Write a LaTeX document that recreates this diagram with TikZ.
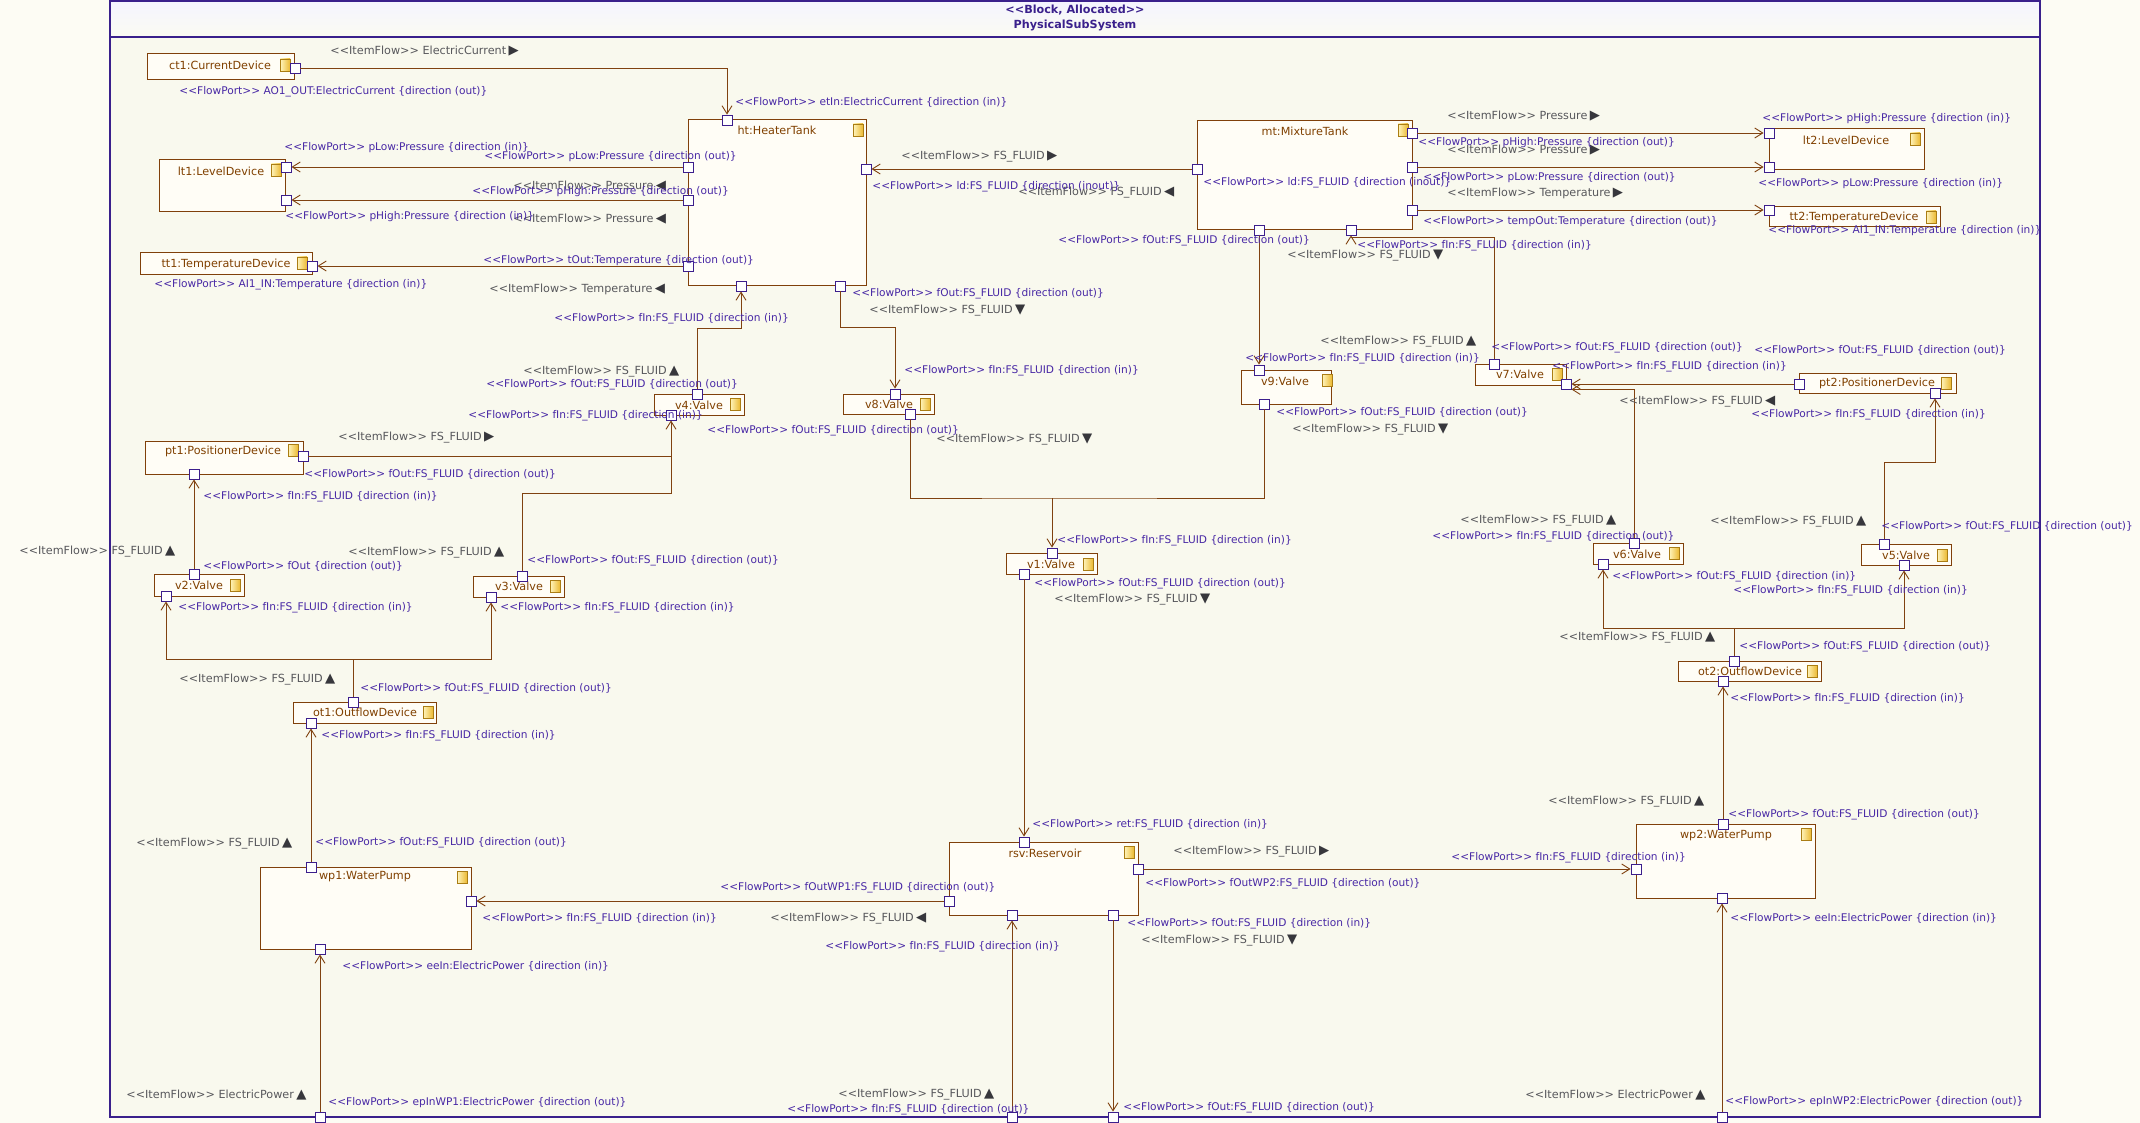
\documentclass[tikz,border=0pt]{standalone}
\usepackage{fontspec}
\setmainfont{DejaVu Sans}
\usepackage{xcolor}
\usetikzlibrary{arrows.meta}

\definecolor{outbg}{RGB}{253,252,244}
\definecolor{inbg}{RGB}{249,249,238}
\definecolor{titletop}{RGB}{244,244,255}
\definecolor{titlebot}{RGB}{251,251,242}
\definecolor{framec}{RGB}{58,32,140}
\definecolor{blockc}{RGB}{128,64,10}
\definecolor{blockf}{RGB}{255,253,246}
\definecolor{connc}{RGB}{128,66,16}
\definecolor{portc}{RGB}{60,30,140}
\definecolor{namec}{RGB}{128,64,0}
\definecolor{fportc}{RGB}{72,40,165}
\definecolor{iflowc}{RGB}{88,88,92}
\definecolor{tric}{RGB}{55,55,60}
\definecolor{iconc}{RGB}{170,125,20}
\definecolor{iconl}{RGB}{255,245,190}
\definecolor{iconr}{RGB}{235,185,50}

\newcommand{\portst}{<\kern0pt<FlowPort>\kern0pt>\ }
\newcommand{\itemst}{<\kern0pt<ItemFlow>\kern0pt>\ }
\newcommand{\trup}{\kern1.2pt{\color{tric}\fontsize{6.6}{6}\selectfont ▲}}
\newcommand{\trdn}{\kern1.2pt{\color{tric}\fontsize{6.6}{6}\selectfont ▼}}
\newcommand{\trlt}{\kern1.2pt{\color{tric}\fontsize{6.6}{6}\selectfont ◀}}
\newcommand{\trrt}{\kern1.2pt{\color{tric}\fontsize{6.6}{6}\selectfont ▶}}

\tikzset{
  block/.style={draw=blockc, fill=blockf, line width=0.5pt, inner sep=0pt},
  port/.style={draw=portc, fill=white, line width=0.45pt, minimum size=5pt, inner sep=0pt},
  icon/.style={draw=iconc, line width=0.3pt, left color=iconl, right color=iconr,
    minimum width=5pt, minimum height=6pt, inner sep=0pt},
  bname/.style={text=namec, font=\fontsize{5.6}{6}\selectfont, inner sep=0pt},
  fport/.style={text=fportc, font=\fontsize{5.3}{6}\selectfont, anchor=west, inner sep=0pt},
  iflow/.style={text=iflowc, font=\fontsize{5.6}{6}\selectfont, anchor=west, inner sep=0pt},
  conn/.style={draw=connc, line width=0.45pt},
}

\begin{document}
\begin{tikzpicture}[x=0.5pt, y=-0.5pt, >={Straight Barb[length=4pt,width=5pt]}]
  % Fond et cadre
  \useasboundingbox (0,0) rectangle (2140,1123);
  \fill[outbg] (0,0) rectangle (2140,1123);
  \fill[inbg] (110,1) rectangle (2040,1117);
  \shade[top color=titletop, bottom color=titlebot] (110,1) rectangle (2040,37);
  \draw[framec, line width=0.6pt] (110,1) rectangle (2040,1117);
  \draw[framec, line width=0.6pt] (110,37) -- (2040,37);
  \node[text=framec, font=\fontsize{5.6}{6}\selectfont\bfseries, inner sep=0pt] (title1) at (1075,10) {<\kern0pt<Block, Allocated>\kern0pt>};
  \node[text=framec, font=\fontsize{5.6}{6}\selectfont\bfseries, inner sep=0pt] (title2) at (1075,25) {PhysicalSubSystem};

  % Blocs
  \node[block, minimum width=73.5pt, minimum height=13pt] (ct1) at (220.5,67) {};
  \node[block, minimum width=89pt, minimum height=82.5pt] (ht) at (777,202.5) {};
  \node[block, minimum width=63pt, minimum height=26pt] (lt1) at (222,186) {};
  \node[block, minimum width=86pt, minimum height=10.5pt] (tt1) at (226,263.5) {};
  \node[block, minimum width=107.5pt, minimum height=54.5pt] (mt) at (1304.5,175.5) {};
  \node[block, minimum width=77.5pt, minimum height=20.5pt] (lt2) at (1846.5,149.5) {};
  \node[block, minimum width=85.5pt, minimum height=10pt] (tt2) at (1854.5,217) {};
  \node[block, minimum width=45pt, minimum height=10.5pt] (v4) at (699,404.5) {};
  \node[block, minimum width=45.5pt, minimum height=10pt] (v8) at (888.5,404) {};
  \node[block, minimum width=45pt, minimum height=17pt] (v9) at (1286,387) {};
  \node[block, minimum width=45.5pt, minimum height=10.5pt] (v7) at (1520.5,374.5) {};
  \node[block, minimum width=78.5pt, minimum height=10pt] (pt2) at (1877.5,383) {};
  \node[block, minimum width=45pt, minimum height=10.5pt] (v6) at (1638,553.5) {};
  \node[block, minimum width=45pt, minimum height=10.5pt] (v5) at (1906,554.5) {};
  \node[block, minimum width=71.5pt, minimum height=10pt] (ot2) at (1749.5,671) {};
  \node[block, minimum width=89.5pt, minimum height=37pt] (wp2) at (1725.5,861) {};
  \node[block, minimum width=94.5pt, minimum height=36.5pt] (rsv) at (1043.5,878.5) {};
  \node[block, minimum width=105.5pt, minimum height=41pt] (wp1) at (365.5,908) {};
  \node[block, minimum width=45.5pt, minimum height=10.5pt] (v1) at (1051.5,563.5) {};
  \node[block, minimum width=79pt, minimum height=16.5pt] (pt1) at (224,457.5) {};
  \node[block, minimum width=45pt, minimum height=11pt] (v2) at (199,585) {};
  \node[block, minimum width=45.5pt, minimum height=10.5pt] (v3) at (518.5,586.5) {};
  \node[block, minimum width=71.5pt, minimum height=10.5pt] (ot1) at (364.5,712.5) {};

  % Noms des blocs
  \node[bname] (ct1-n) at (220,65) {ct1:CurrentDevice};
  \node[bname] (ht-n) at (777,130) {ht:HeaterTank};
  \node[bname] (lt1-n) at (221,171) {lt1:LevelDevice};
  \node[bname] (tt1-n) at (226,264) {tt1:TemperatureDevice};
  \node[bname] (mt-n) at (1305,131) {mt:MixtureTank};
  \node[bname] (lt2-n) at (1846,140) {lt2:LevelDevice};
  \node[bname] (tt2-n) at (1854,217) {tt2:TemperatureDevice};
  \node[bname] (v4-n) at (699,405) {v4:Valve};
  \node[bname] (v8-n) at (889,404) {v8:Valve};
  \node[bname] (v9-n) at (1285,381) {v9:Valve};
  \node[bname] (v7-n) at (1520,374) {v7:Valve};
  \node[bname] (pt2-n) at (1877,383) {pt2:PositionerDevice};
  \node[bname] (v6-n) at (1637,554) {v6:Valve};
  \node[bname] (v5-n) at (1906,555) {v5:Valve};
  \node[bname] (ot2-n) at (1750,671) {ot2:OutflowDevice};
  \node[bname] (wp2-n) at (1726,835) {wp2:WaterPump};
  \node[bname] (rsv-n) at (1045,853) {rsv:Reservoir};
  \node[bname] (wp1-n) at (365,877) {wp1:WaterPump};
  \node[bname] (v1-n) at (1051,564) {v1:Valve};
  \node[bname] (pt1-n) at (223,451) {pt1:PositionerDevice};
  \node[bname] (v2-n) at (199,585) {v2:Valve};
  \node[bname] (v3-n) at (519,586) {v3:Valve};
  \node[bname] (ot1-n) at (365,712) {ot1:OutflowDevice};

  % Icones
  \node[icon] (ct1-i) at (285,65) {};
  \node[icon] (ht-i) at (858,130) {};
  \node[icon] (lt1-i) at (276,170) {};
  \node[icon] (tt1-i) at (302,263) {};
  \node[icon] (mt-i) at (1403,130) {};
  \node[icon] (lt2-i) at (1915,139) {};
  \node[icon] (tt2-i) at (1931,217) {};
  \node[icon] (v4-i) at (735,404) {};
  \node[icon] (v8-i) at (925,404) {};
  \node[icon] (v9-i) at (1327,380) {};
  \node[icon] (v7-i) at (1557,374) {};
  \node[icon] (pt2-i) at (1946,383) {};
  \node[icon] (v6-i) at (1674,553) {};
  \node[icon] (v5-i) at (1942,555) {};
  \node[icon] (ot2-i) at (1812,671) {};
  \node[icon] (wp2-i) at (1806,834) {};
  \node[icon] (rsv-i) at (1129,852) {};
  \node[icon] (wp1-i) at (462,877) {};
  \node[icon] (v1-i) at (1088,564) {};
  \node[icon] (pt1-i) at (293,450) {};
  \node[icon] (v2-i) at (235,585) {};
  \node[icon] (v3-i) at (555,586) {};
  \node[icon] (ot1-i) at (428,712) {};

  % Ports
  \node[port] (ct1out) at (295,68) {};
  \node[port] (htet) at (727,120) {};
  \node[port] (htplo) at (688,167) {};
  \node[port] (htphi) at (688,200) {};
  \node[port] (httout) at (688,266) {};
  \node[port] (htld) at (866,169) {};
  \node[port] (htfin) at (741,286) {};
  \node[port] (htfout) at (840,286) {};
  \node[port] (lt1plo) at (286,167) {};
  \node[port] (lt1phi) at (286,200) {};
  \node[port] (tt1in) at (312,266) {};
  \node[port] (mtld) at (1197,169) {};
  \node[port] (mtphi) at (1412,133) {};
  \node[port] (mtplo) at (1412,167) {};
  \node[port] (mttemp) at (1412,210) {};
  \node[port] (mtfout) at (1259,230) {};
  \node[port] (mtfin) at (1351,230) {};
  \node[port] (lt2phi) at (1769,133) {};
  \node[port] (lt2plo) at (1769,167) {};
  \node[port] (tt2in) at (1769,210) {};
  \node[port] (v4fout) at (697,394) {};
  \node[port] (v4fin) at (671,415) {};
  \node[port] (v8fin) at (895,394) {};
  \node[port] (v8fout) at (910,414) {};
  \node[port] (v9fin) at (1259,370) {};
  \node[port] (v9fout) at (1264,404) {};
  \node[port] (v7fout) at (1494,364) {};
  \node[port] (v7fin) at (1566,384) {};
  \node[port] (pt2fout) at (1799,384) {};
  \node[port] (pt2fin) at (1935,393) {};
  \node[port] (v6fout) at (1634,543) {};
  \node[port] (v6fin) at (1603,564) {};
  \node[port] (v5fout) at (1884,544) {};
  \node[port] (v5fin) at (1904,565) {};
  \node[port] (ot2fout) at (1734,661) {};
  \node[port] (ot2fin) at (1723,681) {};
  \node[port] (wp2fout) at (1723,824) {};
  \node[port] (wp2fin) at (1636,869) {};
  \node[port] (wp2ee) at (1722,898) {};
  \node[port] (rsvret) at (1024,842) {};
  \node[port] (rsvwp2) at (1138,869) {};
  \node[port] (rsvwp1) at (949,901) {};
  \node[port] (rsvfin) at (1012,915) {};
  \node[port] (rsvfout) at (1113,915) {};
  \node[port] (wp1fout) at (311,867) {};
  \node[port] (wp1fin) at (471,901) {};
  \node[port] (wp1ee) at (320,949) {};
  \node[port] (v1fin) at (1052,553) {};
  \node[port] (v1fout) at (1024,574) {};
  \node[port] (pt1fout) at (303,456) {};
  \node[port] (pt1fin) at (194,474) {};
  \node[port] (v2fout) at (194,574) {};
  \node[port] (v2fin) at (166,596) {};
  \node[port] (v3fout) at (522,576) {};
  \node[port] (v3fin) at (491,597) {};
  \node[port] (ot1fout) at (353,702) {};
  \node[port] (ot1fin) at (311,723) {};
  \node[port] (epwp1) at (320,1117) {};
  \node[port] (sysfin) at (1012,1117) {};
  \node[port] (sysfout) at (1113,1117) {};
  \node[port] (epwp2) at (1722,1117) {};

  % Coudes
  \coordinate (jA) at (840,327);
  \coordinate (jB) at (741,328);
  \coordinate (jC) at (671,493);
  \coordinate (jD) at (1351,237);
  \coordinate (jE) at (1052,498);
  \coordinate (jF) at (353,659);
  \coordinate (jG) at (1935,462);
  \coordinate (jH) at (1734,628);

  % Connecteurs
  \draw[conn, ->] (ct1out) -| (htet);
  \draw[conn, ->] (htplo) -- (lt1plo);
  \draw[conn, ->] (htphi) -- (lt1phi);
  \draw[conn, ->] (httout) -- (tt1in);
  \draw[conn, ->] (mtld) -- (htld);
  \draw[conn, ->] (mtphi) -- (lt2phi);
  \draw[conn, ->] (mtplo) -- (lt2plo);
  \draw[conn, ->] (mttemp) -- (tt2in);
  \draw[conn, ->] (htfout) -- (jA) -| (v8fin);
  \draw[conn, ->] (v4fout) |- (jB) -- (htfin);
  \draw[conn, ->] (v3fout) |- (jC) -- (v4fin);
  \draw[conn] (pt1fout) -- (pt1fout -| v4fin);
  \draw[conn, ->] (mtfout) -- (v9fin);
  \draw[conn, ->] (v7fout) |- (jD) -- (mtfin);
  \draw[conn] (v8fout) |- (jE) -| (v9fout);
  \draw[conn, ->] (jE) -- (v1fin);
  \draw[conn, ->] (v1fout) -- (rsvret);
  \draw[conn, ->] (rsvwp1) -- (wp1fin);
  \draw[conn, ->] (rsvwp2) -- (wp2fin);
  \draw[conn, ->] (sysfin) -- (rsvfin);
  \draw[conn, ->] (rsvfout) -- (sysfout);
  \draw[conn, ->] (epwp1) -- (wp1ee);
  \draw[conn, ->] (epwp2) -- (wp2ee);
  \draw[conn, ->] (wp1fout) -- (ot1fin);
  \draw[conn, ->] (ot1fout) -- (jF) -| (v2fin);
  \draw[conn, ->] (jF) -| (v3fin);
  \draw[conn, ->] (v2fout) -- (pt1fin);
  \draw[conn, ->] (pt2fout) -- (v7fin);
  \draw[conn, ->] (v6fout) |- (v7fin.south east);
  \draw[conn, ->] (v5fout) |- (jG) -- (pt2fin);
  \draw[conn, ->] (ot2fout) -- (jH) -| (v6fin);
  \draw[conn, ->] (jH) -| (v5fin);
  \draw[conn, ->] (wp2fout) -- (ot2fin);

  % Etiquettes ItemFlow
  \node[iflow] (if1) at (330,51) {\itemst ElectricCurrent\trrt};
  \node[iflow] (if2) at (513,186) {\itemst Pressure\trlt};
  \node[iflow] (if3) at (513,219) {\itemst Pressure\trlt};
  \node[iflow] (if4) at (489,289) {\itemst Temperature\trlt};
  \node[iflow] (if5) at (901,157) {\itemst FS\_FLUID\trrt};
  \node[iflow] (if6) at (1018,193) {\itemst FS\_FLUID\trlt};
  \node[iflow] (if7) at (1447,116) {\itemst Pressure\trrt};
  \node[iflow] (if8) at (1447,150) {\itemst Pressure\trrt};
  \node[iflow] (if9) at (1447,193) {\itemst Temperature\trrt};
  \node[iflow] (if10) at (1287,256) {\itemst FS\_FLUID\trdn};
  \node[iflow] (if11) at (869,311) {\itemst FS\_FLUID\trdn};
  \node[iflow] (if12) at (523,372) {\itemst FS\_FLUID\trup};
  \node[iflow] (if13) at (1320,342) {\itemst FS\_FLUID\trup};
  \node[iflow] (if14) at (936,440) {\itemst FS\_FLUID\trdn};
  \node[iflow] (if15) at (1292,430) {\itemst FS\_FLUID\trdn};
  \node[iflow] (if16) at (1619,402) {\itemst FS\_FLUID\trlt};
  \node[iflow] (if17) at (338,438) {\itemst FS\_FLUID\trrt};
  \node[iflow] (if18) at (1460,521) {\itemst FS\_FLUID\trup};
  \node[iflow] (if19) at (1710,522) {\itemst FS\_FLUID\trup};
  \node[iflow] (if20) at (19,552) {\itemst FS\_FLUID\trup};
  \node[iflow] (if21) at (348,553) {\itemst FS\_FLUID\trup};
  \node[iflow] (if22) at (1054,600) {\itemst FS\_FLUID\trdn};
  \node[iflow] (if23) at (1559,638) {\itemst FS\_FLUID\trup};
  \node[iflow] (if24) at (179,680) {\itemst FS\_FLUID\trup};
  \node[iflow] (if25) at (1548,802) {\itemst FS\_FLUID\trup};
  \node[iflow] (if26) at (136,844) {\itemst FS\_FLUID\trup};
  \node[iflow] (if27) at (1173,852) {\itemst FS\_FLUID\trrt};
  \node[iflow] (if28) at (770,919) {\itemst FS\_FLUID\trlt};
  \node[iflow] (if29) at (1141,941) {\itemst FS\_FLUID\trdn};
  \node[iflow] (if30) at (126,1095) {\itemst ElectricPower\trup};
  \node[iflow] (if31) at (838,1095) {\itemst FS\_FLUID\trup};
  \node[iflow] (if32) at (1525,1095) {\itemst ElectricPower\trup};

  % Etiquettes FlowPort
  \node[fport] (fp-ct1) at (179,92) {\portst AO1\_OUT:ElectricCurrent \{direction (out)\}};
  \node[fport] (fp-htet) at (735,102) {\portst etIn:ElectricCurrent \{direction (in)\}};
  \node[fport] (fp-lt1lo) at (284,148) {\portst pLow:Pressure \{direction (in)\}};
  \node[fport] (fp-htlo) at (484,157) {\portst pLow:Pressure \{direction (out)\}};
  \node[fport] (fp-hthi) at (472,192) {\portst pHigh:Pressure \{direction (out)\}};
  \node[fport] (fp-lt1hi) at (285,217) {\portst pHigh:Pressure \{direction (in)\}};
  \node[fport] (fp-httout) at (483,261) {\portst tOut:Temperature \{direction (out)\}};
  \node[fport] (fp-tt1) at (154,285) {\portst AI1\_IN:Temperature \{direction (in)\}};
  \node[fport] (fp-htfin) at (554,319) {\portst fIn:FS\_FLUID \{direction (in)\}};
  \node[fport] (fp-htld) at (872,187) {\portst ld:FS\_FLUID \{direction (inout)\}};
  \node[fport] (fp-mtld) at (1203,183) {\portst ld:FS\_FLUID \{direction (inout)\}};
  \node[fport] (fp-mthi) at (1418,143) {\portst pHigh:Pressure \{direction (out)\}};
  \node[fport] (fp-mtlo) at (1423,178) {\portst pLow:Pressure \{direction (out)\}};
  \node[fport] (fp-mttemp) at (1423,222) {\portst tempOut:Temperature \{direction (out)\}};
  \node[fport] (fp-lt2hi) at (1762,119) {\portst pHigh:Pressure \{direction (in)\}};
  \node[fport] (fp-lt2lo) at (1758,184) {\portst pLow:Pressure \{direction (in)\}};
  \node[fport] (fp-tt2) at (1768,231) {\portst AI1\_IN:Temperature \{direction (in)\}};
  \node[fport] (fp-mtfout) at (1058,241) {\portst fOut:FS\_FLUID \{direction (out)\}};
  \node[fport] (fp-mtfin) at (1357,246) {\portst fIn:FS\_FLUID \{direction (in)\}};
  \node[fport] (fp-htfout) at (852,294) {\portst fOut:FS\_FLUID \{direction (out)\}};
  \node[fport] (fp-v8fin) at (904,371) {\portst fIn:FS\_FLUID \{direction (in)\}};
  \node[fport] (fp-v9fin) at (1245,359) {\portst fIn:FS\_FLUID \{direction (in)\}};
  \node[fport] (fp-v9fout) at (1276,413) {\portst fOut:FS\_FLUID \{direction (out)\}};
  \node[fport] (fp-v7fout) at (1491,348) {\portst fOut:FS\_FLUID \{direction (out)\}};
  \node[fport] (fp-pt2fout) at (1754,351) {\portst fOut:FS\_FLUID \{direction (out)\}};
  \node[fport] (fp-v7fin) at (1552,367) {\portst fIn:FS\_FLUID \{direction (in)\}};
  \node[fport] (fp-pt2fin) at (1751,415) {\portst fIn:FS\_FLUID \{direction (in)\}};
  \node[fport] (fp-v4fout) at (486,385) {\portst fOut:FS\_FLUID \{direction (out)\}};
  \node[fport] (fp-v4fin) at (468,416) {\portst fIn:FS\_FLUID \{direction (in)\}};
  \node[fport] (fp-v8fout) at (707,431) {\portst fOut:FS\_FLUID \{direction (out)\}};
  \node[fport] (fp-pt1fout) at (304,475) {\portst fOut:FS\_FLUID \{direction (out)\}};
  \node[fport] (fp-pt1fin) at (203,497) {\portst fIn:FS\_FLUID \{direction (in)\}};
  \node[fport] (fp-v6fout) at (1432,537) {\portst fIn:FS\_FLUID \{direction (out)\}};
  \node[fport] (fp-v5fout) at (1881,527) {\portst fOut:FS\_FLUID \{direction (out)\}};
  \node[fport] (fp-v6fin) at (1612,577) {\portst fOut:FS\_FLUID \{direction (in)\}};
  \node[fport] (fp-v5fin) at (1733,591) {\portst fIn:FS\_FLUID \{direction (in)\}};
  \node[fport] (fp-v1fin) at (1057,541) {\portst fIn:FS\_FLUID \{direction (in)\}};
  \node[fport] (fp-v1fout) at (1034,584) {\portst fOut:FS\_FLUID \{direction (out)\}};
  \node[fport] (fp-v2fout) at (203,566) {\portst fOut \{direction (out)\}};
  \node[fport] (fp-v3fout) at (527,561) {\portst fOut:FS\_FLUID \{direction (out)\}};
  \node[fport] (fp-v2fin) at (178,608) {\portst fIn:FS\_FLUID \{direction (in)\}};
  \node[fport] (fp-v3fin) at (500,608) {\portst fIn:FS\_FLUID \{direction (in)\}};
  \node[fport] (fp-ot1fout) at (360,689) {\portst fOut:FS\_FLUID \{direction (out)\}};
  \node[fport] (fp-ot1fin) at (321,736) {\portst fIn:FS\_FLUID \{direction (in)\}};
  \node[fport] (fp-ot2fout) at (1739,647) {\portst fOut:FS\_FLUID \{direction (out)\}};
  \node[fport] (fp-ot2fin) at (1730,699) {\portst fIn:FS\_FLUID \{direction (in)\}};
  \node[fport] (fp-wp2fout) at (1728,815) {\portst fOut:FS\_FLUID \{direction (out)\}};
  \node[fport] (fp-wp1fout) at (315,843) {\portst fOut:FS\_FLUID \{direction (out)\}};
  \node[fport] (fp-rsvret) at (1032,825) {\portst ret:FS\_FLUID \{direction (in)\}};
  \node[fport] (fp-wp2fin) at (1451,858) {\portst fIn:FS\_FLUID \{direction (in)\}};
  \node[fport] (fp-rsvwp1) at (720,888) {\portst fOutWP1:FS\_FLUID \{direction (out)\}};
  \node[fport] (fp-rsvwp2) at (1145,884) {\portst fOutWP2:FS\_FLUID \{direction (out)\}};
  \node[fport] (fp-wp1fin) at (482,919) {\portst fIn:FS\_FLUID \{direction (in)\}};
  \node[fport] (fp-rsvfout) at (1127,924) {\portst fOut:FS\_FLUID \{direction (in)\}};
  \node[fport] (fp-rsvfin) at (825,947) {\portst fIn:FS\_FLUID \{direction (in)\}};
  \node[fport] (fp-wp1ee) at (342,966) {\portst eeIn:ElectricPower \{direction (in)\}};
  \node[fport] (fp-wp2ee) at (1730,918) {\portst eeIn:ElectricPower \{direction (in)\}};
  \node[fport] (fp-epwp1) at (328,1103) {\portst epInWP1:ElectricPower \{direction (out)\}};
  \node[fport] (fp-sysfin) at (787,1110) {\portst fIn:FS\_FLUID \{direction (out)\}};
  \node[fport] (fp-sysfout) at (1123,1108) {\portst fOut:FS\_FLUID \{direction (out)\}};
  \node[fport] (fp-epwp2) at (1725,1102) {\portst epInWP2:ElectricPower \{direction (out)\}};
\end{tikzpicture}
\end{document}
